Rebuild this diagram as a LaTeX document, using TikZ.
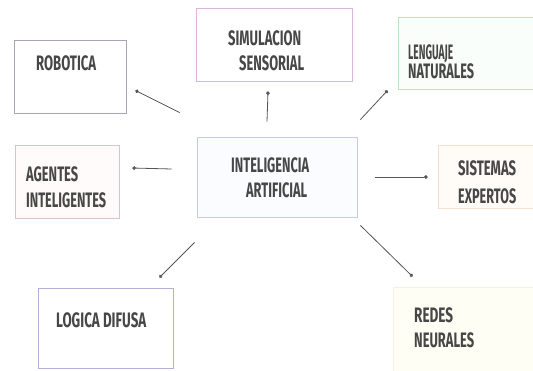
\documentclass[tikz,border=0pt]{standalone}
\usepackage{fontspec}
\setmainfont{Fira Sans}
\usetikzlibrary{arrows.meta}

% word set at a fixed width, its capitals 14.5pt tall (height taken from H only)
\newcommand{\sizedword}[2]{\resizebox{#1}{14.5pt}{\bfseries\vphantom{H}\smash{#2}}}

\definecolor{txtgray}{HTML}{474747}
\definecolor{linkgray}{HTML}{555555}
\definecolor{robline}{HTML}{ADA3B8}
\definecolor{simline}{HTML}{DDB6DD}
\definecolor{lenline}{HTML}{BFE3BF}
\definecolor{lenfill}{HTML}{FAFEFA}
\definecolor{ageline}{HTML}{E0C2C6}
\definecolor{agefill}{HTML}{FFFBFB}
\definecolor{ialine}{HTML}{C3CEE6}
\definecolor{iafill}{HTML}{FBFCFF}
\definecolor{sisline}{HTML}{F2E0D0}
\definecolor{sisfill}{HTML}{FFFBF6}
\definecolor{logline}{HTML}{B2B0D4}
\definecolor{redline}{HTML}{F6F1DE}
\definecolor{redfill}{HTML}{FFFEF4}

\tikzset{
  box/.style={draw, line width=0.8pt, inner sep=0pt, rectangle},
  % the given point is the middle of the capitals; baseline sits 7.25pt lower
  word/.style={anchor=base west, yshift=-7.25pt, inner sep=0pt, text=txtgray},
  link/.style={draw=linkgray, line width=0.8pt,
               -{Circle[length=3.6pt,width=3.6pt]}},
}

\begin{document}
\begin{tikzpicture}[x=1pt,y=-1pt]
  \useasboundingbox (0,0) rectangle (533,370);
  \clip (0,0) rectangle (533,370);

  % boxes
  \node[box, draw=robline, minimum width=112pt, minimum height=73pt]
    (rob) at (70,76.5) {};
  \node[box, draw=simline, minimum width=156pt, minimum height=73pt]
    (sim) at (274,44.5) {};
  \node[box, draw=lenline, fill=lenfill, minimum width=142pt, minimum height=72pt]
    (len) at (469,53) {};
  \node[box, draw=ageline, fill=agefill, minimum width=104pt, minimum height=73pt]
    (age) at (67,181.5) {};
  \node[box, draw=ialine, fill=iafill, minimum width=160pt, minimum height=80pt]
    (ia) at (277,177) {};
  \node[box, draw=sisline, fill=sisfill, minimum width=102pt, minimum height=63pt]
    (sis) at (489,176.5) {};
  \node[box, draw=logline, minimum width=135pt, minimum height=80pt]
    (log) at (105.5,328) {};
  \node[box, draw=redline, fill=redfill, minimum width=147pt, minimum height=88pt]
    (red) at (466.5,331) {};

  % labels
  \node[word] (t-rob)  at (36,63)   {\sizedword{60pt}{ROBOTICA}};
  \node[word] (t-sim1) at (228,38)  {\sizedword{73pt}{SIMULACION}};
  \node[word] (t-sim2) at (239,63)  {\sizedword{65pt}{SENSORIAL}};
  \node[word] (t-len1) at (408,52)  {\sizedword{45pt}{LENGUAJE}};
  \node[word] (t-len2) at (408,71)  {\sizedword{66pt}{NATURALES}};
  \node[word] (t-age1) at (26,174)  {\sizedword{52pt}{AGENTES}};
  \node[word] (t-age2) at (26,200)  {\sizedword{80pt}{INTELIGENTES}};
  \node[word] (t-ia1)  at (231,165) {\sizedword{78pt}{INTELIGENCIA}};
  \node[word] (t-ia2)  at (246,190) {\sizedword{61pt}{ARTIFICIAL}};
  \node[word] (t-sis1) at (458,168) {\sizedword{58pt}{SISTEMAS}};
  \node[word] (t-sis2) at (458,196) {\sizedword{58pt}{EXPERTOS}};
  \node[word] (t-log)  at (56,320)  {\sizedword{90pt}{LOGICA DIFUSA}};
  \node[word] (t-red1) at (414,315) {\sizedword{39pt}{REDES}};
  \node[word] (t-red2) at (414,340) {\sizedword{60pt}{NEURALES}};

  % connectors from the central box
  \draw[link] ([shift={(-17,-24)}]ia.north west) -- ([shift={(9,-23)}]rob.south east);
  \draw[link] ([shift={(-10,-15)}]ia.north)      -- ([shift={(-6,10)}]sim.south);
  \draw[link] ([shift={(3,-17)}]ia.north east)   -- ([shift={(-10,1)}]len.south west);
  \draw[link] ([shift={(-25,-8)}]ia.west)        -- ([shift={(13,-13.5)}]age.east);
  \draw[link] ([shift={(18,0)}]ia.east)          -- ([shift={(-10,0.5)}]sis.west);
  \draw[link] ([shift={(3,8)}]ia.south east)     -- ([shift={(20,-10)}]red.north west);
  \draw[link] ([shift={(-2,25)}]ia.south west)   -- ([shift={(-14,-10)}]log.north east);
\end{tikzpicture}
\end{document}
